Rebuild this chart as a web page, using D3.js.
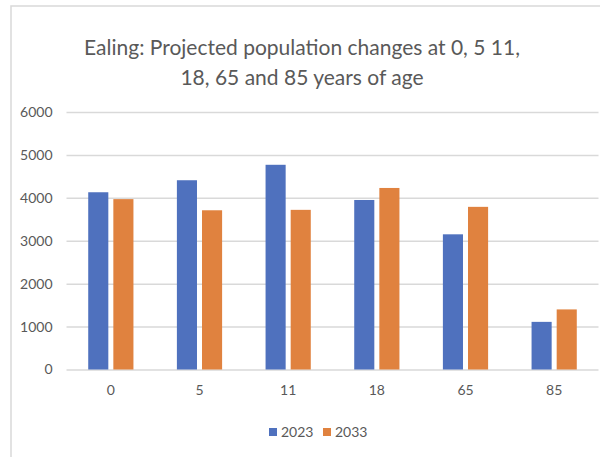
<!DOCTYPE html>
<html>
<head>
<meta charset="utf-8">
<script src="https://cdn.jsdelivr.net/npm/d3@7"></script>
<style>
  body { margin: 0; background: #fff; }
  svg { display: block; font-family: Lato, 'Open Sans', sans-serif; }
</style>
</head>
<body>
<div id="chart"></div>
<script>
// chart data
const ages = ['0', '5', '11', '18', '65', '85']
const seriesNames = ['2023', '2033']
const values2023 = [4130, 4410, 4770, 3950, 3150, 1110]
const values2033 = [3970, 3710, 3720, 4230, 3790, 1400]
const yTicks = [0, 1000, 2000, 3000, 4000, 5000, 6000]
const titleLines = ['Ealing: Projected population changes at 0, 5 11,', '18, 65 and 85 years of age']

const colors = { '2023': '#4f71be', '2033': '#e0823f' }

const width = 600
const height = 457
const plot = { left: 66.5, right: 598.5, top: 112, bottom: 369.5 }

const svg = d3.select('#chart').append('svg')
  .attr('width', width)
  .attr('height', height)

// outer frame
svg.append('path')
  .attr('d', `M11,${height} V6 H${width}`)
  .attr('fill', 'none')
  .attr('stroke', '#d9d9d9')
  .attr('stroke-width', 1.5)

// title
svg.append('g').selectAll('text')
  .data(titleLines)
  .enter().append('text')
    .attr('x', 302)
    .attr('y', (d, i) => 55 + i * 30)
    .attr('text-anchor', 'middle')
    .attr('font-size', 21)
    .attr('fill', '#595959')
    .text(d => d)

const xScale = d3.scaleBand()
  .domain(ages)
  .range([plot.left, plot.right])
  .paddingInner(0.49)
  .paddingOuter(0.245)

const xInner = d3.scaleBand()
  .domain(seriesNames)
  .range([0, xScale.bandwidth()])
  .paddingInner(0.2)

const yScale = d3.scaleLinear()
  .domain([0, 6000])
  .range([plot.bottom, plot.top])

// gridlines + y labels
const yAxis = d3.axisLeft(yScale)
  .tickValues(yTicks)
  .tickFormat(d3.format('d'))
  .tickSize(plot.left - plot.right)
  .tickPadding(14)
const gy = svg.append('g')
  .attr('transform', `translate(${plot.left},0)`)
  .call(yAxis)
gy.select('.domain').remove()
gy.selectAll('line').attr('stroke', '#d9d9d9').attr('stroke-width', 1.5)
gy.selectAll('text')
  .attr('font-size', 14)
  .attr('font-family', 'Lato, sans-serif')
  .attr('fill', '#595959')

// bars
const data = ages.map((a, i) => ({ age: a, vals: [
  { key: '2023', value: values2023[i] },
  { key: '2033', value: values2033[i] }
] }))

const groups = svg.append('g').selectAll('g')
  .data(data)
  .enter().append('g')
    .attr('transform', d => `translate(${xScale(d.age)},0)`)

groups.selectAll('rect')
  .data(d => d.vals)
  .enter().append('rect')
    .attr('x', d => xInner(d.key))
    .attr('y', d => yScale(d.value))
    .attr('width', xInner.bandwidth())
    .attr('height', d => yScale(0) - yScale(d.value))
    .attr('fill', d => colors[d.key])

// x labels
const xAxis = d3.axisBottom(xScale).tickSize(0).tickPadding(16)
const gx = svg.append('g')
  .attr('transform', `translate(0,${plot.bottom})`)
  .call(xAxis)
gx.select('.domain').remove()
gx.selectAll('text')
  .attr('font-size', 14)
  .attr('font-family', 'Lato, sans-serif')
  .attr('fill', '#595959')

// legend
const legend = svg.append('g').selectAll('g')
  .data(seriesNames)
  .enter().append('g')
    .attr('transform', (d, i) => `translate(${269 + i * 54},428)`)
legend.append('rect')
  .attr('width', 8)
  .attr('height', 8)
  .attr('fill', d => colors[d])
legend.append('text')
  .attr('x', 12)
  .attr('y', 9)
  .attr('font-size', 14)
  .attr('fill', '#595959')
  .text(d => d)
</script>
</body>
</html>
